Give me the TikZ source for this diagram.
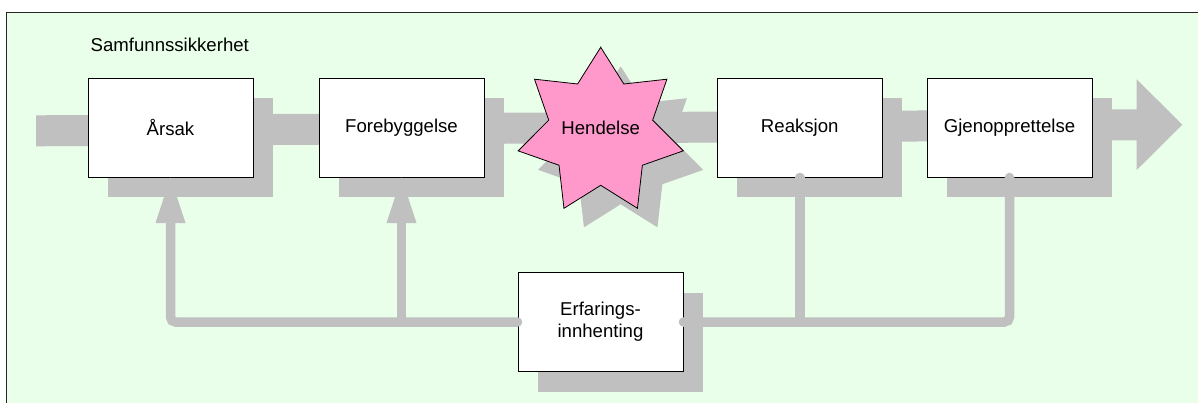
\documentclass[tikz,border=0pt]{standalone}
\usepackage{fontspec}
\setmainfont{Liberation Sans}
\usetikzlibrary{calc,shadows}
\definecolor{bggreen}{RGB}{234,255,234}
\definecolor{shadowgray}{RGB}{192,192,192}
\definecolor{starpink}{RGB}{255,153,204}
\begin{document}
\begin{tikzpicture}[x=1pt,y=-1pt,
  txt/.style={font=\fontsize{18.6}{22}\selectfont},
  box/.style={txt, draw=black, line width=0.9pt, fill=white,
    minimum width=165pt, minimum height=99pt, inner sep=0pt, align=center,
    drop shadow={shadow xshift=20pt, shadow yshift=-20pt, fill=shadowgray, opacity=1}},
  fb/.style={draw=shadowgray, line width=9.5pt, line cap=round, rounded corners=5pt},
  fbhead/.style={fill=shadowgray},
  starshape/.style={line width=0.8pt, line join=miter}]
\useasboundingbox (0,0) rectangle (1198,402);
\clip (0,0) rectangle (1198,402);
% background frame
\fill[bggreen] (6.5,12.5) rectangle (1220,420);
\draw[black!85, line width=1.3pt] (6.5,420) -- (6.5,12.5) -- (1220,12.5);
% main process arrow
\fill[shadowgray] (36,115.3) -- (1136.7,109.3) -- (1136.7,79.3) -- (1182.3,124.7)
  -- (1136.7,170) -- (1136.7,140.3) -- (36,146.3) -- cycle;
% star shadow
\begin{scope}[shift={(620.7,151)}]
  \fill[shadowgray] (90:84.7pt) \foreach \i in {0,...,6} {
    -- (115.7143+\i*51.4286:53.3pt) -- (141.4286+\i*51.4286:84.7pt) } -- cycle;
\end{scope}
% title
\node[txt, anchor=base west, inner sep=0pt] (title) at (90.5,51.7) {Samfunnssikkerhet};
% boxes
\node[box] (arsak) at (170.5,127.5) {Årsak};
\node[box] (fore) at (401.5,127.5) {Forebyggelse};
\node[box] (reak) at (799.75,127.5) {Reaksjon};
\node[box] (gjen) at (1009.5,127.5) {Gjenopprettelse};
\node[box] (erf) at (600.5,322) {Erfarings-\\innhenting};
% star
\begin{scope}[shift={(600.7,132)}]
  \filldraw[starshape, fill=starpink, draw=black] (90:84.7pt) \foreach \i in {0,...,6} {
    -- (115.7143+\i*51.4286:53.3pt) -- (141.4286+\i*51.4286:84.7pt) } -- cycle;
\end{scope}
\node[txt, inner sep=0pt] (hend) at (600.7,127.5) {Hendelse};
% feedback lines
\coordinate (a1) at (170.5,223);
\coordinate (f1) at (401.5,223);
\draw[fb] (erf.west) -| (a1);
\draw[fb] (f1) -- (f1 |- erf.west);
\fill[fbhead] ($(a1)+(-15,0)$) -- ($(a1)+(15,0)$) -- (arsak.south) -- cycle;
\fill[fbhead] ($(f1)+(-15,0)$) -- ($(f1)+(15,0)$) -- (fore.south) -- cycle;
\draw[fb] (erf.east) -| (gjen.south);
\draw[fb] (reak.south) -- (reak.south |- erf.east);
\end{tikzpicture}
\end{document}
